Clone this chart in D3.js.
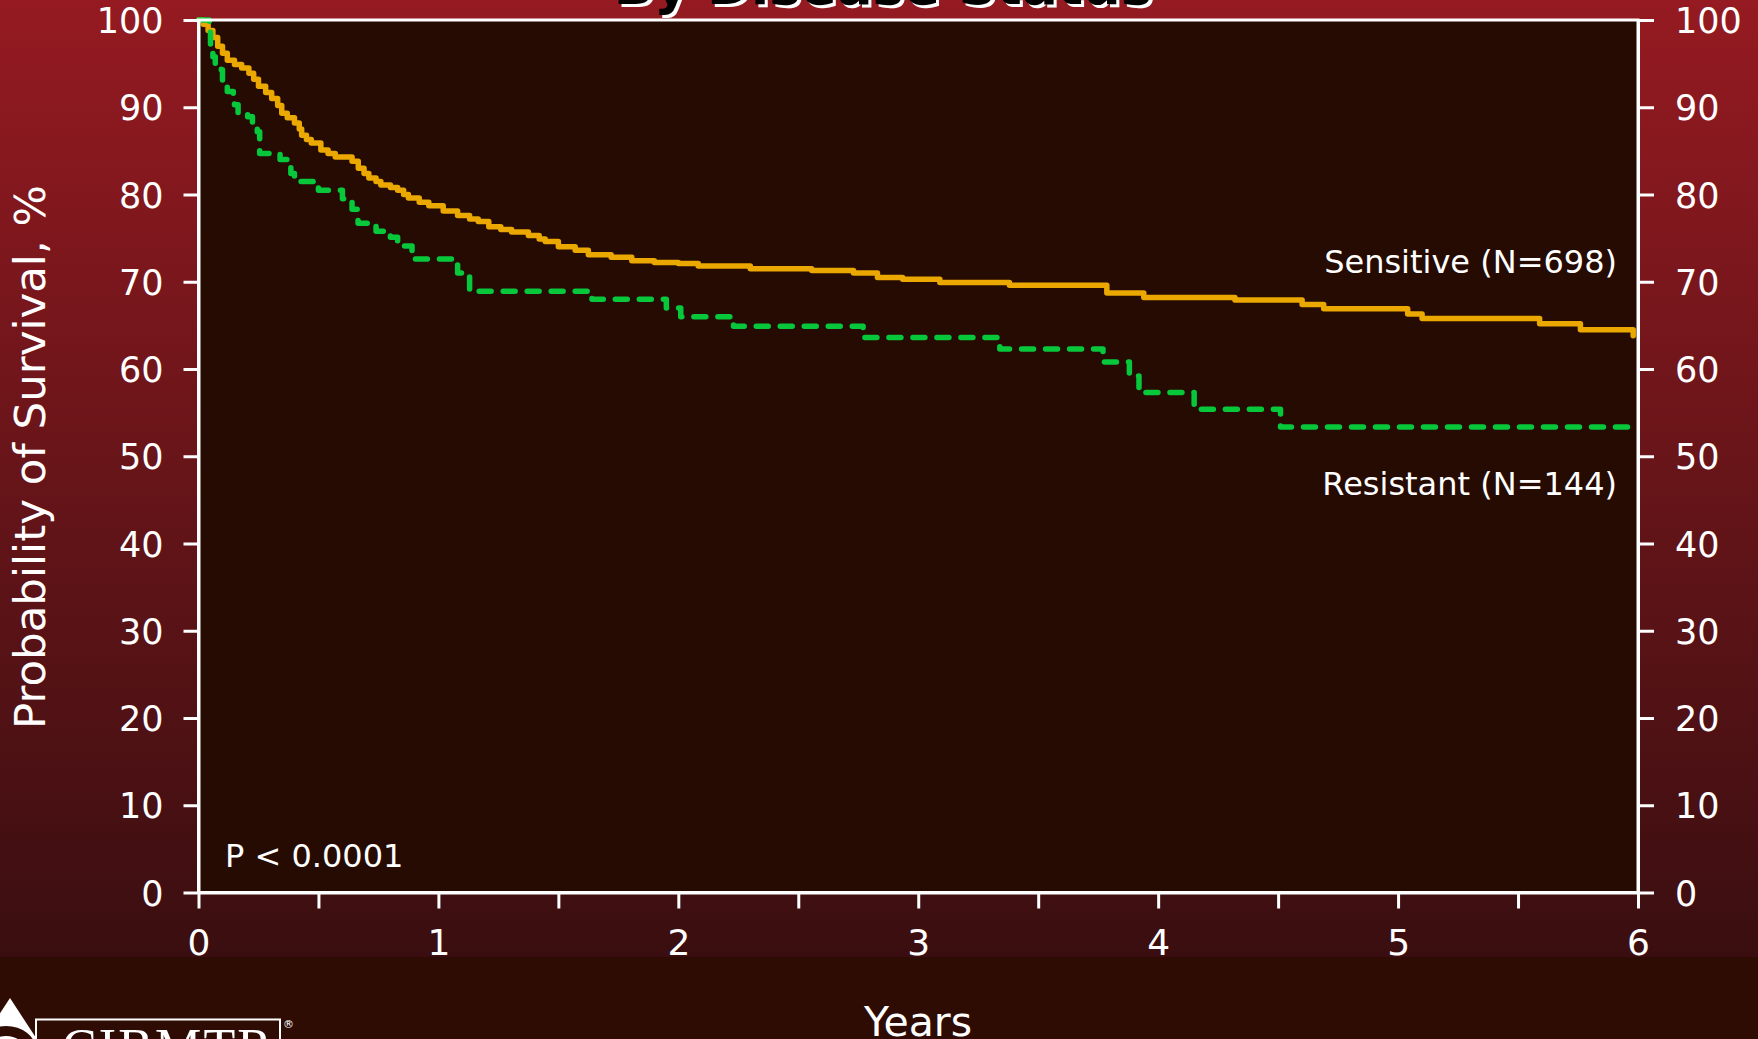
<!DOCTYPE html>
<html>
<head>
<meta charset="utf-8">
<script src="https://cdn.jsdelivr.net/npm/d3@7/dist/d3.min.js"></script>
<style>
  html, body { margin: 0; padding: 0; background: #2e0c04; overflow: hidden; }
  svg { display: block; }
</style>
</head>
<body>
<svg id="chart" width="1758" height="1039"></svg>
<script>
// ---------------- Data ----------------
const titleText = "By Disease Status";
const yAxisLabel = "Probability of Survival, %";
const xAxisLabel = "Years";
const pValueText = "P < 0.0001";

const seriesNames = ["Sensitive (N=698)", "Resistant (N=144)"];

// Kaplan–Meier steps: time (years) and survival (%) from that time onward
const sensitiveTimes = [0, 0.02, 0.04, 0.06, 0.08, 0.10, 0.12, 0.15, 0.18, 0.21, 0.23, 0.25, 0.28, 0.305, 0.33, 0.347,
  0.37, 0.40, 0.42, 0.43, 0.45, 0.47, 0.51, 0.54, 0.57, 0.64, 0.666, 0.69, 0.71, 0.74, 0.76, 0.80, 0.83, 0.855,
  0.875, 0.92, 0.96, 1.02, 1.08, 1.13, 1.166, 1.21, 1.26, 1.305, 1.375, 1.42, 1.445, 1.50, 1.57, 1.625, 1.72,
  1.806, 1.90, 2.0, 2.083, 2.30, 2.556, 2.73, 2.83, 2.935, 3.09, 3.38, 3.786, 3.94, 4.32, 4.60, 4.69, 5.04,
  5.10, 5.59, 5.76, 5.98];
const sensitiveSurv = [100, 99.5, 98.8, 98.0, 97.0, 96.2, 95.4, 94.9, 94.5, 93.9, 93.2, 92.4, 91.7, 91.0, 90.2, 89.3,
  88.8, 88.2, 87.5, 86.8, 86.3, 85.9, 85.1, 84.7, 84.3, 83.8, 83.0, 82.4, 81.9, 81.5, 81.1, 80.8, 80.5, 80.0,
  79.6, 79.1, 78.7, 78.1, 77.6, 77.2, 76.9, 76.3, 76.0, 75.7, 75.3, 74.9, 74.6, 74.0, 73.6, 73.1, 72.8,
  72.4, 72.2, 72.1, 71.8, 71.5, 71.3, 71.0, 70.5, 70.3, 69.9, 69.6, 68.7, 68.2, 67.9, 67.4, 66.9, 66.3,
  65.8, 65.2, 64.5, 63.8];

const resistantTimes = [0, 0.045, 0.05, 0.06, 0.07, 0.095, 0.10, 0.12, 0.145, 0.15, 0.165, 0.205, 0.225, 0.245, 0.255,
  0.34, 0.385, 0.40, 0.50, 0.60, 0.64, 0.665, 0.74, 0.80, 0.83, 0.89, 1.08, 1.13, 1.64, 1.95, 2.01, 2.23,
  2.77, 3.34, 3.77, 3.88, 3.92, 4.15, 4.51, 5.98];
const resistantSurv = [100, 98.6, 97.2, 95.8, 94.8, 94.3, 92.9, 91.8, 91.4, 90.3, 89.3, 88.9, 88.0, 87.2, 84.7,
  84.0, 82.4, 81.5, 80.5, 79.5, 78.3, 76.7, 75.8, 75.1, 74.1, 72.6, 71.0, 68.9, 68.0, 67.0, 66.0, 64.9,
  63.6, 62.3, 60.8, 59.2, 57.3, 55.4, 53.35, 53.35];

const yTickValues = [0, 10, 20, 30, 40, 50, 60, 70, 80, 90, 100];
const xTickValues = [0, 0.5, 1, 1.5, 2, 2.5, 3, 3.5, 4, 4.5, 5, 5.5, 6];

// ---------------- Layout ----------------
const W = 1758, H = 1039;
const plot = { left: 198.5, right: 1638, top: 20, bottom: 892.5 };
const FONT = "'DejaVu Sans', Verdana, sans-serif";

const svg = d3.select("#chart");
const defs = svg.append("defs");
const grad = defs.append("linearGradient").attr("id", "bg").attr("x1", 0).attr("y1", 0).attr("x2", 0).attr("y2", 1);
grad.append("stop").attr("offset", "0%").attr("stop-color", "#951a21");
grad.append("stop").attr("offset", "55%").attr("stop-color", "#621418");
grad.append("stop").attr("offset", "100%").attr("stop-color", "#3a0e10");

svg.append("rect").attr("x", 0).attr("y", 0).attr("width", W).attr("height", 957).attr("fill", "url(#bg)");
svg.append("rect").attr("x", 0).attr("y", 957).attr("width", W).attr("height", H - 957).attr("fill", "#2e0c04");

const x = d3.scaleLinear().domain([0, 6]).range([plot.left, plot.right]);
const y = d3.scaleLinear().domain([0, 100]).range([plot.bottom, plot.top]);

// plot background
svg.append("rect")
  .attr("x", plot.left).attr("y", plot.top)
  .attr("width", plot.right - plot.left).attr("height", plot.bottom - plot.top)
  .attr("fill", "#260b02");

// title (mostly cut off at top, as in the reference)
const title = svg.append("g");
title.append("text").attr("x", 886).attr("y", 7).attr("text-anchor", "middle")
  .attr("font-family", FONT).attr("font-weight", "bold").attr("font-size", 53)
  .attr("fill", "#ffffff").text(titleText);
title.append("text").attr("x", 883).attr("y", 4).attr("text-anchor", "middle")
  .attr("font-family", FONT).attr("font-weight", "bold").attr("font-size", 53)
  .attr("fill", "#000000").text(titleText);

// curves
const line = d3.line().x(d => x(d[0])).y(d => y(d[1])).curve(d3.curveStepAfter);
const sensData = sensitiveTimes.map((t, i) => [t, sensitiveSurv[i]]);
const resData = resistantTimes.map((t, i) => [t, resistantSurv[i]]);

svg.append("path").datum(sensData).attr("d", line)
  .attr("fill", "none").attr("stroke", "#eaa800").attr("stroke-width", 5.5)
  .attr("stroke-linejoin", "round").attr("stroke-linecap", "round");
svg.append("path").datum(resData).attr("d", line)
  .attr("fill", "none").attr("stroke", "#06c83a").attr("stroke-width", 5.5)
  .attr("stroke-dasharray", "12,12")
  .attr("stroke-linejoin", "round").attr("stroke-linecap", "round");

// frame
svg.append("rect")
  .attr("x", plot.left).attr("y", plot.top)
  .attr("width", plot.right - plot.left).attr("height", plot.bottom - plot.top)
  .attr("fill", "none").attr("stroke", "#ffffff").attr("stroke-width", 3);

function styleAxis(g, size) {
  g.selectAll("path.domain").attr("stroke", "#ffffff").attr("stroke-width", 3);
  g.selectAll(".tick line").attr("stroke", "#ffffff").attr("stroke-width", 3);
  g.selectAll(".tick text").attr("fill", "#ffffff").attr("font-family", FONT).attr("font-size", size);
}

// left axis
const gl = svg.append("g").attr("transform", `translate(${plot.left},0)`)
  .call(d3.axisLeft(y).tickValues(yTickValues).tickSize(15).tickSizeOuter(0).tickPadding(20));
styleAxis(gl, 35);
gl.selectAll(".tick text").attr("dy", "0.36em");

// right axis
const gr = svg.append("g").attr("transform", `translate(${plot.right},0)`)
  .call(d3.axisRight(y).tickValues(yTickValues).tickSize(16).tickSizeOuter(0).tickPadding(21));
styleAxis(gr, 35);
gr.selectAll(".tick text").attr("dy", "0.36em");

// bottom axis
const gb = svg.append("g").attr("transform", `translate(0,${plot.bottom})`)
  .call(d3.axisBottom(x).tickValues(xTickValues).tickSize(16).tickSizeOuter(0)
    .tickFormat(d => Number.isInteger(d) ? d3.format("d")(d) : ""));
styleAxis(gb, 36);
gb.selectAll(".tick text").attr("y", 62.5).attr("dy", 0);

// axis titles
svg.append("text").attr("transform", "translate(45,457) rotate(-90)")
  .attr("text-anchor", "middle").attr("font-family", FONT).attr("font-size", 43.5)
  .attr("fill", "#ffffff").text(yAxisLabel);
svg.append("text").attr("x", 918).attr("y", 1036).attr("text-anchor", "middle")
  .attr("font-family", FONT).attr("font-size", 41).attr("fill", "#ffffff").text(xAxisLabel);

// series labels
svg.append("text").attr("x", 1617).attr("y", 273).attr("text-anchor", "end")
  .attr("font-family", FONT).attr("font-size", 32).attr("fill", "#ffffff").text(seriesNames[0]);
svg.append("text").attr("x", 1617).attr("y", 495).attr("text-anchor", "end")
  .attr("font-family", FONT).attr("font-size", 32).attr("fill", "#ffffff").text(seriesNames[1]);

// p-value
svg.append("text").attr("x", 225).attr("y", 867)
  .attr("font-family", FONT).attr("font-size", 32).attr("fill", "#ffffff").text(pValueText);

// logo (partially visible at bottom-left)
const logo = svg.append("g");
logo.append("path").attr("d", "M10,998 L70,1090 L-50,1090 Z").attr("fill", "#ffffff");
logo.append("ellipse").attr("cx", 6).attr("cy", 1050).attr("rx", 30).attr("ry", 24).attr("fill", "#2e0c04");
logo.append("ellipse").attr("cx", 6).attr("cy", 1052).attr("rx", 20).attr("ry", 16).attr("fill", "#ffffff");
logo.append("path").attr("d", "M36,1045 L36,1019.5 L280,1019.5 L280,1045")
  .attr("fill", "none").attr("stroke", "#ffffff").attr("stroke-width", 2);
logo.append("text").attr("x", 62).attr("y", 1065).attr("font-family", "'Liberation Serif', 'DejaVu Serif', serif")
  .attr("font-size", 52).attr("fill", "#ffffff").attr("textLength", 210).text("CIBMTR");
logo.append("text").attr("x", 283).attr("y", 1028).attr("font-family", "'DejaVu Sans', sans-serif")
  .attr("font-size", 11).attr("fill", "#ffffff").text("®");
</script>
</body>
</html>
